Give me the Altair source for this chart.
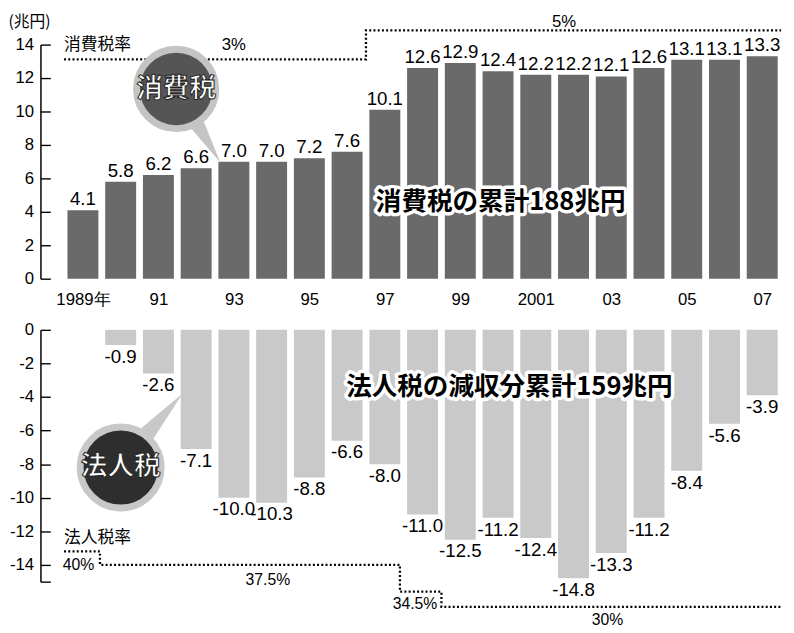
import altair as alt
import pandas as pd

# ---------------- data ----------------
years = list(range(1989, 2008))
consumption_tax = [4.1, 5.8, 6.2, 6.6, 7.0, 7.0, 7.2, 7.6, 10.1, 12.6,
                   12.9, 12.4, 12.2, 12.2, 12.1, 12.6, 13.1, 13.1, 13.3]

corp_years = list(range(1990, 2008))
corp_tax_loss = [-0.9, -2.6, -7.1, -10.0, -10.3, -8.8, -6.6, -8.0, -11.0,
                 -12.5, -11.2, -12.4, -14.8, -13.3, -11.2, -8.4, -5.6, -3.9]

x_tick_years = [1989, 1991, 1993, 1995, 1997, 1999, 2001, 2003, 2005, 2007]
x_tick_labels = ["1989年", "91", "93", "95", "97", "99", "2001", "03", "05", "07"]

top_y_ticks = [0, 2, 4, 6, 8, 10, 12, 14]
bot_y_ticks = [-15, -14, -12, -10, -8, -6, -4, -2, 0]

# consumption tax rate (step line, drawn in the chart's year / 兆円 units)
ct_rate_x = [1988.5, 1996.5, 1996.5, 2007.5]
ct_rate_y = [13.12, 13.12, 14.85, 14.85]
ct_rate_text = ["3%", "5%"]
ct_rate_text_x = [1993.0, 2001.75]
ct_rate_text_y = [13.95, 15.32]

# corporate tax rate
corp_rate_x = [1988.5, 1989.45, 1989.45, 1997.4, 1997.4, 1998.5, 1998.5, 2007.5]
corp_rate_y = [-13.2, -13.2, -14.0, -14.0, -15.6, -15.6, -16.5, -16.5]
corp_rate_text = ["40%", "37.5%", "34.5%", "30%"]
corp_rate_text_x = [1988.88, 1993.9, 1997.8, 2002.9]
corp_rate_text_y = [-14.0, -14.9, -16.35, -17.3]

# annotations
ct_title = ["消費税率"]
corp_title = ["法人税率"]
ct_total = ["消費税の累計188兆円"]
ct_total_pos = [2000.07, 4.6]
corp_total = ["法人税の減収分累計159兆円"]
corp_total_pos = [2000.3, -3.4]

ct_bubble = ["消費税"]
ct_bubble_pos = [1991.47, 11.35]
ct_tail_x = [1991.9, 1992.6]
ct_tail_y = [9.7, 7.1]
ct_tail_w = [18, 1]

corp_bubble = ["法人税"]
corp_bubble_pos = [1990.0, -8.2]
corp_tail_x = [1990.5, 1991.58]
corp_tail_y = [-6.7, -3.95]
corp_tail_w = [20, 1]

# ---------------- styling ----------------
NUM = "Liberation Sans"
CJK = "Noto Sans CJK JP"
W = 729
H_TOP = 238
H_BOT = 256
XDOM = [1988.5, 2007.5]

xscale = alt.Scale(domain=XDOM, nice=False, zero=False)

# build label expression for x axis from the label lists
expr = "''"
for yv, lab in reversed(list(zip(x_tick_years, x_tick_labels))):
    expr = f"datum.value == {yv} ? '{lab}' : ({expr})"

top_df = pd.DataFrame({"year": years, "v": consumption_tax})
top_df["lab"] = [f"{v:.1f}" for v in consumption_tax]
bot_df = pd.DataFrame({"year": corp_years, "v": corp_tax_loss})
bot_df["lab"] = [f"{v:.1f}" for v in corp_tax_loss]


def make_yaxis(values, label_expr, title=None):
    kw = dict(
        values=values, grid=False, offset=24, labelExpr=label_expr,
        tickSize=alt.ExprRef("-10"), labelPadding=17, tickColor="black",
        tickWidth=1.4, domainColor="black", domainWidth=1.5, labelFont=NUM,
        labelFontSize=17, labelColor="black",
    )
    if title:
        kw.update(title=title, titleAngle=0, titleX=-33, titleY=-23,
                  titleAlign="left", titleBaseline="middle", titleFont=CJK,
                  titleFontSize=16, titleFontWeight="normal", titleColor="black")
    else:
        kw.update(title=None)
    return alt.Axis(**kw)


top_xaxis = alt.Axis(
    values=x_tick_years, labelExpr=expr, domain=False, ticks=False, grid=False,
    labelPadding=13, labelFont=NUM, labelFontSize=17, labelColor="black",
    title=None,
)
top_yaxis = make_yaxis(top_y_ticks, "'' + datum.value", "(兆円)")
bot_yaxis = make_yaxis(bot_y_ticks,
                       "datum.value == -15 ? '' : '' + datum.value")

ytop = alt.Scale(domain=[0, 14], nice=False)
ybot = alt.Scale(domain=[-15, 0], nice=False)

PANELS = {
    "top": dict(xaxis=top_xaxis, yaxis=top_yaxis, yscale=ytop),
    "bot": dict(xaxis=None, yaxis=bot_yaxis, yscale=ybot),
}


def X(field, p):
    return alt.X(field, type="quantitative", scale=xscale, axis=PANELS[p]["xaxis"])


def Y(field, p):
    return alt.Y(field, type="quantitative", scale=PANELS[p]["yscale"],
                 axis=PANELS[p]["yaxis"])


def step_line(xs, ys, p):
    df = pd.DataFrame({"x": xs, "y": ys, "i": range(len(xs))})
    return alt.Chart(df).mark_line(
        color="black", strokeWidth=2.3, strokeDash=[2, 2.3], strokeCap="butt"
    ).encode(x=X("x", p), y=Y("y", p), order="i:Q")


def texts(labels, xs, ys, p, **kw):
    df = pd.DataFrame({"t": labels, "x": xs, "y": ys})
    return alt.Chart(df).mark_text(**kw).encode(x=X("x", p), y=Y("y", p), text="t:N")


def bubble(label, pos, tx, ty, tw, p, fill, ring, size):
    tail = alt.Chart(pd.DataFrame({"x": tx, "y": ty, "w": tw, "i": [0, 1]})).mark_trail(
        color=ring
    ).encode(
        x=X("x", p), y=Y("y", p),
        size=alt.Size("w:Q", scale=None), order="i:Q"
    )
    dfc = pd.DataFrame({"t": label, "x": [pos[0]], "y": [pos[1]]})
    circ = alt.Chart(dfc).mark_point(
        shape="circle", filled=True, fill=fill, stroke=ring, strokeWidth=7,
        size=size, opacity=1
    ).encode(x=X("x", p), y=Y("y", p))
    txt = alt.Chart(dfc).mark_text(
        font=CJK, fontSize=27, fontWeight="bold", color="white",
        stroke="#222222", strokeWidth=1
    ).encode(x=X("x", p), y=Y("y", p), text="t:N")
    return tail + circ + txt


def outlined(label, pos, p, size):
    df = pd.DataFrame({"t": label, "x": [pos[0]], "y": [pos[1]]})
    base = alt.Chart(df).encode(x=X("x", p), y=Y("y", p), text="t:N")
    halo = base.mark_text(font=CJK, fontSize=size, fontWeight="bold",
                          color="white", stroke="white", strokeWidth=7,
                          strokeJoin="round")
    ink = base.mark_text(font=CJK, fontSize=size, fontWeight="bold", color="black")
    return halo + ink


def bars(df, p, color):
    return alt.Chart(df).transform_calculate(
        x1="datum.year - 0.41", x2="datum.year + 0.41"
    ).mark_bar(color=color).encode(
        x=X("x1", p), x2="x2:Q", y=Y("v", p), y2=alt.datum(0),
    )


NOFRAME = alt.ViewBackground(stroke="transparent", strokeWidth=0)

# ---------------- top panel ----------------
top = alt.layer(
    bars(top_df, "top", "#6a6a6a"),
    alt.Chart(top_df).mark_text(
        font=NUM, fontSize=19, baseline="alphabetic", dy=-5, color="black"
    ).encode(x=X("year", "top"), y=Y("v", "top"), text="lab:N"),
    step_line(ct_rate_x, ct_rate_y, "top"),
    texts(ct_rate_text, ct_rate_text_x, ct_rate_text_y, "top",
          font=NUM, fontSize=17, color="black"),
    texts(ct_title, [1988.5], [13.95], "top", font=CJK, fontSize=17,
          align="left", color="black"),
    outlined(ct_total, ct_total_pos, "top", 26),
    bubble(ct_bubble, ct_bubble_pos, ct_tail_x, ct_tail_y, ct_tail_w, "top",
           "#555555", "#c4c4c4", 6500),
).properties(width=W, height=H_TOP, view=NOFRAME)

# ---------------- bottom panel ----------------
bottom = alt.layer(
    bars(bot_df, "bot", "#c9c9c9"),
    alt.Chart(bot_df).mark_text(
        font=NUM, fontSize=19, baseline="top", dy=3, color="black"
    ).encode(x=X("year", "bot"), y=Y("v", "bot"), text="lab:N"),
    step_line(corp_rate_x, corp_rate_y, "bot"),
    texts(corp_rate_text, corp_rate_text_x, corp_rate_text_y, "bot",
          font=NUM, fontSize=16, color="black"),
    texts(corp_title, [1988.5], [-12.4], "bot", font=CJK, fontSize=17,
          align="left", color="black"),
    outlined(corp_total, corp_total_pos, "bot", 26),
    bubble(corp_bubble, corp_bubble_pos, corp_tail_x, corp_tail_y, corp_tail_w,
           "bot", "#2e2e2e", "#c8c8c8", 6800),
).properties(width=W, height=H_BOT, view=NOFRAME)

chart = alt.vconcat(top, bottom, spacing=52, bounds="flush").configure_view(
    stroke="transparent", strokeWidth=0
).configure(background="white", padding=0)

chart.save("out.html", embed_options={"renderer": "svg", "actions": False})
